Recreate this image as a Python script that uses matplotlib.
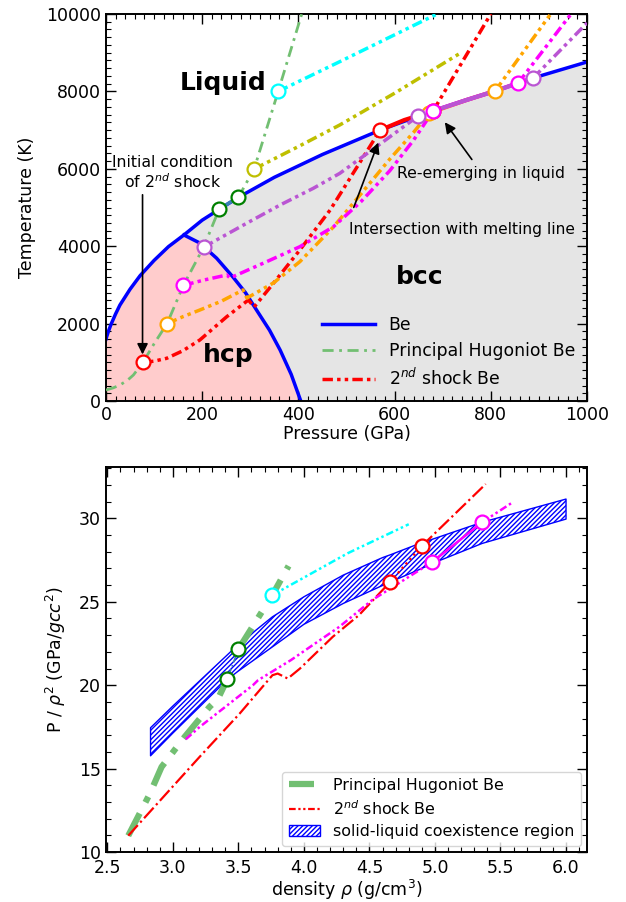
import numpy as np
import matplotlib
matplotlib.use('Agg')
from matplotlib import pyplot as plt
from matplotlib.patches import Patch
from matplotlib.lines import Line2D

plt.rcParams['font.family'] = 'DejaVu Sans'
plt.rcParams['font.size'] = 12.5
plt.rcParams['mathtext.default'] = 'it'

# ---------------- top panel: P-T phase diagram ----------------
melt_P = [0, 2, 5, 10, 20, 29, 50, 71, 100, 130, 162, 200, 235, 275, 350, 450, 570, 650, 680, 750, 809, 857, 888, 1000]
melt_T = [1600, 1684, 1798, 1967, 2251, 2480, 2888, 3240, 3633, 3990, 4290, 4673, 4950, 5260, 5780, 6370, 7000, 7364, 7494, 7780, 8010, 8217, 8346, 8760]

hcpbcc_P = [162, 195, 230, 264, 290, 313, 340, 362, 385, 405]
hcpbcc_T = [4290, 4083, 3690, 3204, 2800, 2351, 1830, 1318, 690, 0]

# principal Hugoniot (solid, coexistence, liquid)
hug_sol_P = [0, 15, 29, 45, 57, 77, 100, 127, 161, 203, 235]
hug_sol_T = [284, 340, 413, 540, 672, 1000, 1480, 2000, 2990, 3975, 4950]
hug_coex_P = [235, 255, 275]
hug_coex_T = [4950, 5110, 5260]
hug_liq_P = [275, 308, 358, 407]
hug_liq_T = [5260, 5995, 8000, 10000]

# second shocks (start on Hugoniot)
red_sol_P = [77, 100, 126, 160, 195, 251, 296, 308, 348, 403, 466, 518, 570]
red_sol_T = [1000, 1030, 1103, 1300, 1576, 2178, 2610, 2430, 3041, 3902, 4935, 5969, 7000]
red_coex_P = [570, 620, 680]
red_coex_T = [7000, 7260, 7494]
red_liq_P = [680, 800]
red_liq_T = [7494, 10000]

org_sol_P = [127, 160, 195, 240, 285, 293, 348, 403, 473, 530, 590, 640, 672]
org_sol_T = [2000, 2180, 2351, 2580, 2870, 2660, 3050, 3600, 4500, 5350, 6250, 6950, 7442]
org_coex_P = [672, 750, 809]
org_coex_T = [7442, 7780, 8010]
org_liq_P = [809, 923]
org_liq_T = [8010, 9974]

mag_sol_P = [161, 205, 251, 258, 334, 403, 473, 530, 590, 640, 680]
mag_sol_T = [2990, 3130, 3256, 3180, 3600, 3987, 4504, 5150, 5950, 6750, 7494]
mag_coex_P = [680, 750, 809, 857]
mag_coex_T = [7494, 7780, 8010, 8217]
mag_liq_P = [857, 970]
mag_liq_T = [8217, 10050]

pur_sol_P = [203, 250, 292, 362, 431, 486, 560, 649]
pur_sol_T = [3975, 4300, 4590, 5065, 5496, 5882, 6550, 7364]
pur_coex_P = [649, 680, 750, 809, 888]
pur_coex_T = [7364, 7494, 7780, 8010, 8346]
pur_liq_P = [888, 1000]
pur_liq_T = [8346, 9767]

yel_P = [308, 400, 486, 600, 736]
yel_T = [5995, 6575, 7132, 7953, 8984]

cyan_P = [358, 486, 690]
cyan_T = [8000, 8768, 10010]

# ---------------- bottom panel: P/rho^2 vs density ----------------
band_rho = [2.83, 3.0, 3.21, 3.42, 3.5, 3.76, 4.0, 4.3, 4.6, 4.66, 4.9, 4.98, 5.36, 6.0]
band_low = [15.77, 17.13, 18.75, 20.37, 20.85, 22.3, 23.65, 24.9, 25.98, 26.19, 27.0, 27.3, 28.5, 29.96]
band_up = [17.45, 18.75, 20.3, 21.85, 22.45, 24.1, 25.3, 26.6, 27.65, 27.82, 28.55, 28.75, 29.77, 31.16]

hugb_rho = [2.66, 2.825, 2.914, 3.09, 3.28, 3.345, 3.416]
hugb_v = [10.98, 13.5, 15.1, 16.9, 18.7, 19.2, 20.37]
hugb_coex_rho = [3.416, 3.5]
hugb_coex_v = [20.37, 22.15]
hugb_liq_rho = [3.5, 3.759, 3.883]
hugb_liq_v = [22.15, 25.4, 27.15]

redb_rho = [2.66, 3.205, 3.51, 3.76, 3.80, 3.877, 3.97, 4.22, 4.42, 4.658]
redb_v = [10.98, 15.71, 18.3, 20.6, 20.7, 20.4, 21.0, 22.9, 24.2, 26.19]
redb_coex_rho = [4.658, 4.90]
redb_coex_v = [26.19, 28.35]
redb_liq_rho = [4.90, 5.387]
redb_liq_v = [28.35, 32.06]

magb_rho = [3.099, 3.205, 3.611, 3.65, 3.90, 4.27, 4.52, 4.98]
magb_v = [16.76, 17.5, 20.0, 20.3, 21.5, 23.5, 25.1, 27.39]
magb_coex_rho = [4.98, 5.36]
magb_coex_v = [27.39, 29.77]
magb_liq_rho = [5.36, 5.58]
magb_liq_v = [29.77, 30.9]

cyanb_rho = [3.759, 4.334, 4.80]
cyanb_v = [25.4, 27.91, 29.65]

DDOT = (0, (3, 1.2, 1, 1.2, 1, 1.2))
GDOT = (0, (4, 2, 1, 2))
HUG_C = '#72bf72'


def style_axes(ax):
    ax.tick_params(which='both', direction='in', top=True, right=True)
    ax.tick_params(which='major', length=7, width=1.0)
    ax.tick_params(which='minor', length=3.5, width=0.8)
    for s in ax.spines.values():
        s.set_linewidth(1.4)


fig = plt.figure(figsize=(6.26, 9.02), dpi=100)
ax1 = fig.add_axes([0.1693, 0.5554, 0.7684, 0.4291])
ax2 = fig.add_axes([0.1693, 0.0554, 0.7684, 0.4272])

# ----- top -----
hcp_poly_P = [0] + melt_P[:11] + hcpbcc_P
hcp_poly_T = [0] + melt_T[:11] + hcpbcc_T
ax1.fill(hcp_poly_P, hcp_poly_T, color='#ffcccc', lw=0, zorder=0)
bcc_poly_P = hcpbcc_P + [1000] + melt_P[10:][::-1]
bcc_poly_T = hcpbcc_T + [0] + melt_T[10:][::-1]
ax1.fill(bcc_poly_P, bcc_poly_T, color='#e5e5e5', lw=0, zorder=0)

ax1.plot(melt_P, melt_T, color='blue', lw=2.5, zorder=2)
ax1.plot(hcpbcc_P, hcpbcc_T, color='blue', lw=2.5, zorder=2)

ax1.plot(hug_sol_P, hug_sol_T, color=HUG_C, lw=2, ls=GDOT, zorder=3)
ax1.plot(hug_coex_P, hug_coex_T, color='#3b80b5', lw=2.5, zorder=3)
ax1.plot(hug_liq_P, hug_liq_T, color=HUG_C, lw=2, ls=GDOT, zorder=3)

curves = [
    ('red', red_sol_P, red_sol_T, red_coex_P, red_coex_T, red_liq_P, red_liq_T),
    ('orange', org_sol_P, org_sol_T, org_coex_P, org_coex_T, org_liq_P, org_liq_T),
    ('magenta', mag_sol_P, mag_sol_T, mag_coex_P, mag_coex_T, mag_liq_P, mag_liq_T),
    ('mediumorchid', pur_sol_P, pur_sol_T, pur_coex_P, pur_coex_T, pur_liq_P, pur_liq_T),
]
for c, sp, st, cp, ct, lp, lt in curves:
    ax1.plot(sp, st, color=c, lw=2.5, ls=DDOT, zorder=4)
    ax1.plot(cp, ct, color=c, lw=3, zorder=4)
    ax1.plot(lp, lt, color=c, lw=2.5, ls=DDOT, zorder=4)
ax1.plot(yel_P, yel_T, color='y', lw=2.5, ls=DDOT, zorder=4)
ax1.plot(cyan_P, cyan_T, color='cyan', lw=2.5, ls=DDOT, zorder=4)

mk = dict(marker='o', ms=10, mfc='white', mew=1.6, ls='none', zorder=6)
ax1.plot([hug_coex_P[0], hug_coex_P[-1]], [hug_coex_T[0], hug_coex_T[-1]], mec='green', **mk)
for c, sp, st, cp, ct, lp, lt in curves:
    ax1.plot([sp[0], cp[0], cp[-1]], [st[0], ct[0], ct[-1]], mec=c, **mk)
ax1.plot(yel_P[0], yel_T[0], mec='y', **mk)
ax1.plot(cyan_P[0], cyan_T[0], mec='cyan', **mk)

ax1.text(243, 8220, 'Liquid', fontsize=18, fontweight='bold', ha='center', va='center')
ax1.text(254, 1190, 'hcp', fontsize=18, fontweight='bold', ha='center', va='center')
ax1.text(653, 3200, 'bcc', fontsize=18, fontweight='bold', ha='center', va='center')

ap = dict(arrowstyle='-|>', color='k', lw=1.2, mutation_scale=16)
ax1.text(139, 5900, 'Initial condition\nof 2$^{nd}$ shock', fontsize=11.3,
         ha='center', va='center', linespacing=1.15, zorder=7)
ax1.annotate('', xy=(76, 1130), xytext=(76, 5400), arrowprops=ap, zorder=7)
ax1.text(740, 4420, 'Intersection with melting line', fontsize=11.1, ha='center', va='center', zorder=7)
ax1.annotate('', xy=(568, 6744), xytext=(513, 4935), arrowprops=ap, zorder=7)
ax1.text(780, 5870, 'Re-emerging in liquid', fontsize=11.3, ha='center', va='center', zorder=7)
ax1.annotate('', xy=(701, 7261), xytext=(764, 6183), arrowprops=ap, zorder=7)

leg1 = [Line2D([], [], color='blue', lw=2.5),
        Line2D([], [], color=HUG_C, lw=2, ls=GDOT),
        Line2D([], [], color='red', lw=2.5, ls=DDOT)]
ax1.legend(leg1, ['Be', 'Principal Hugoniot Be', '2$^{nd}$ shock Be'],
           loc='lower right', frameon=False, handlelength=3.1, labelspacing=0.45,
           fontsize=12.4, borderaxespad=0.3)

ax1.set_xlim(0, 1000)
ax1.set_ylim(0, 10000)
ax1.set_xticks(np.arange(0, 1001, 200))
ax1.set_xticks(np.arange(0, 1001, 20), minor=True)
ax1.set_yticks(np.arange(0, 10001, 2000))
ax1.set_yticks(np.arange(0, 10001, 200), minor=True)
ax1.set_xlabel('Pressure (GPa)', labelpad=1)
ax1.set_ylabel('Temperature (K)', labelpad=7)
style_axes(ax1)

# ----- bottom -----
ax2.fill_between(band_rho, band_low, band_up, facecolor='none', edgecolor='blue',
                 hatch='///////', lw=1, zorder=1)

ax2.plot(hugb_rho, hugb_v, color=HUG_C, lw=4.5, ls=GDOT, zorder=3)
ax2.plot(hugb_coex_rho, hugb_coex_v, color='#3b80b5', lw=1.2, ls='-.', zorder=3)
ax2.plot(hugb_liq_rho, hugb_liq_v, color=HUG_C, lw=4.5, ls=GDOT, zorder=3)

ax2.plot(redb_rho, redb_v, color='red', lw=1.6, ls='-.', zorder=4)
ax2.plot(redb_coex_rho, redb_coex_v, color='red', lw=1.6, ls=':', zorder=4)
ax2.plot(redb_liq_rho, redb_liq_v, color='red', lw=1.6, ls='-.', zorder=4)

ax2.plot(magb_rho, magb_v, color='magenta', lw=1.8, ls=DDOT, zorder=4)
ax2.plot(magb_coex_rho, magb_coex_v, color='magenta', lw=1.8, zorder=4)
ax2.plot(magb_liq_rho, magb_liq_v, color='magenta', lw=1.8, ls=DDOT, zorder=4)

ax2.plot(cyanb_rho, cyanb_v, color='cyan', lw=1.8, ls=DDOT, zorder=4)

mk2 = dict(marker='o', ms=10, mfc='white', mew=1.6, ls='none', zorder=6)
ax2.plot([hugb_coex_rho[0], hugb_coex_rho[-1]], [hugb_coex_v[0], hugb_coex_v[-1]], mec='green', **mk2)
ax2.plot([redb_coex_rho[0], redb_coex_rho[-1]], [redb_coex_v[0], redb_coex_v[-1]], mec='red', **mk2)
ax2.plot([magb_coex_rho[0], magb_coex_rho[-1]], [magb_coex_v[0], magb_coex_v[-1]], mec='magenta', **mk2)
ax2.plot(cyanb_rho[0], cyanb_v[0], mec='cyan', **mk2)

leg2 = [Line2D([], [], color=HUG_C, lw=4.5, ls=GDOT),
        Line2D([], [], color='red', lw=1.6, ls=DDOT),
        Patch(facecolor='none', edgecolor='blue', hatch='///////')]
ax2.legend(leg2, ['Principal Hugoniot Be', '2$^{nd}$ shock Be', 'solid-liquid coexistence region'],
           loc='lower right', fontsize=11.4, borderaxespad=0.4, labelspacing=0.4)

ax2.set_xlim(2.49, 6.16)
ax2.set_ylim(10, 33.1)
ax2.set_xticks(np.arange(2.5, 6.01, 0.5))
ax2.set_xticks(np.arange(2.5, 6.11, 0.1), minor=True)
ax2.set_yticks(np.arange(10, 31, 5))
ax2.set_yticks(np.arange(10, 34, 1), minor=True)
ax2.tick_params(axis='x', pad=5)
ax2.set_xlabel(r'density $\rho$ (g/cm$^3$)', labelpad=1)
ax2.set_ylabel(r'P / $\rho^2$ (GPa/$gcc^2$)', labelpad=8)
style_axes(ax2)

fig.savefig('out.png', dpi=100)
